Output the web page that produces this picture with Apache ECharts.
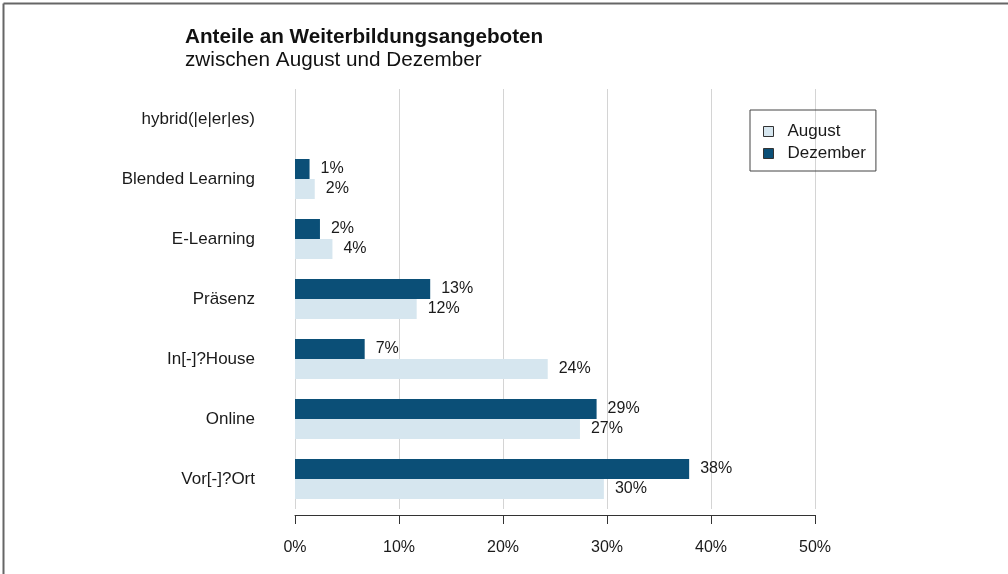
<!DOCTYPE html>
<html>
<head>
<meta charset="utf-8">
<script src="https://cdn.jsdelivr.net/npm/echarts@6/dist/echarts.min.js"></script>
<style>html,body{margin:0;padding:0;background:#fff}#c{width:1008px;height:574px}</style>
</head>
<body>
<div id="c"></div>
<script>
const categories = ["Vor[-]?Ort", "Online", "In[-]?House", "Präsenz", "E-Learning", "Blended Learning", "hybrid(|e|er|es)"];
const august = [29.7, 27.4, 24.3, 11.7, 3.6, 1.9, null];
const dezember = [37.9, 29.0, 6.7, 13.0, 2.4, 1.4, null];
const xTicks = [0, 10, 20, 30, 40, 50];
const titleText = "Anteile an Weiterbildungsangeboten";
const subtitleText = "zwischen August und Dezember";

const FONT = "Liberation Sans, Arial, sans-serif";
const chart = echarts.init(document.getElementById('c'), null, {renderer: 'canvas'});
const labelCfg = {
  show: true, position: 'right', distance: 11,
  color: '#1a1a1a', fontSize: 16, fontFamily: FONT,
  formatter: p => Math.round(p.value) + '%'
};
chart.setOption({
  animation: false,
  backgroundColor: '#fff',
  title: {
    text: titleText, subtext: subtitleText,
    left: 180, top: 22, itemGap: 2,
    textStyle: {fontFamily: FONT, fontSize: 20.7, fontWeight: 'bold', color: '#111'},
    subtextStyle: {fontFamily: FONT, fontSize: 20.7, color: '#111'}
  },
  legend: {
    data: [
      {name: 'August', itemStyle: {borderColor: '#333', borderWidth: 1}},
      {name: 'Dezember', itemStyle: {borderColor: '#333', borderWidth: 1}}
    ],
    orient: 'vertical', left: 750, top: 110,
    padding: [13, 10, 9, 13], itemGap: 5,
    borderColor: '#444', borderWidth: 1, borderRadius: 0,
    itemWidth: 10, itemHeight: 10, icon: 'rect',
    textStyle: {fontFamily: FONT, fontSize: 17, lineHeight: 17, color: '#1a1a1a', padding: [0, 0, 0, 9]}
  },
  grid: {left: 295, top: 89, width: 520, height: 420, containLabel: false},
  xAxis: {
    type: 'value', min: 0, max: 50, interval: 10, offset: 6,
    axisLine: {show: true, lineStyle: {color: '#333', width: 1}},
    axisTick: {show: true, length: 9, lineStyle: {color: '#333'}},
    axisLabel: {fontFamily: FONT, fontSize: 16, color: '#1a1a1a', margin: 25,
      formatter: v => xTicks.includes(v) ? v + '%' : ''},
    splitLine: {show: true, lineStyle: {color: '#d4d4d4', width: 1}}
  },
  yAxis: {
    type: 'category', data: categories,
    axisLine: {show: false}, axisTick: {show: false},
    axisLabel: {fontFamily: FONT, fontSize: 17, color: '#1a1a1a', margin: 40}
  },
  series: [
    {name: 'Dezember', type: 'bar', data: dezember, barWidth: 20, barGap: '0%',
      itemStyle: {color: '#0b4f77'}, label: labelCfg},
    {name: 'August', type: 'bar', data: august, barWidth: 20, barGap: '0%',
      itemStyle: {color: '#d6e6ef'}, label: labelCfg}
  ],
  graphic: [
    {type: 'line', shape: {x1: 3.5, y1: 3.5, x2: 1008, y2: 3.5}, style: {stroke: '#666', lineWidth: 2}},
    {type: 'line', shape: {x1: 3.5, y1: 3.5, x2: 3.5, y2: 574}, style: {stroke: '#666', lineWidth: 2}}
  ]
});
</script>
</body>
</html>
